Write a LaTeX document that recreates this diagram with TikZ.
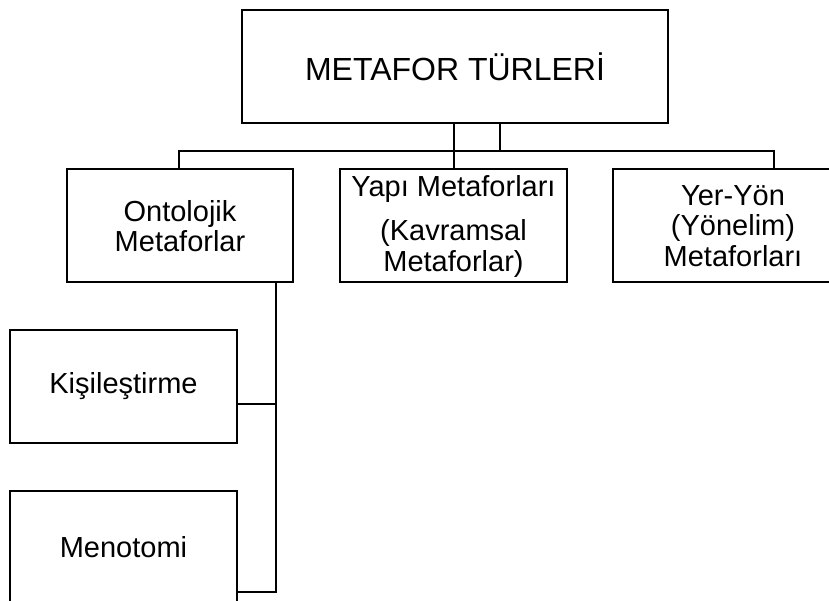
\documentclass[tikz,border=0pt]{standalone}
\usepackage{fontspec}
\setmainfont{Liberation Sans}
\tikzset{
  box/.style={draw=black, line width=2pt, rectangle, inner sep=0pt, outer sep=0pt,
    align=center, font=\fontsize{29}{30.5}\selectfont},
  conn/.style={draw=black, line width=2pt}
}
\begin{document}
\begin{tikzpicture}[x=1pt,y=-1pt]
\useasboundingbox (0,0) rectangle (829,601);
\clip (0,0) rectangle (829,601);
\fill[white] (0,0) rectangle (829,601);

\node[box, minimum width=426pt, minimum height=113pt, font=\fontsize{32}{36}\selectfont] (top) at (455,66.5) {METAFOR TÜRLERİ};
\node[box, minimum width=226pt, minimum height=113pt] (onto) at (180,226) {Ontolojik\\Metaforlar};
\node[box, minimum width=227pt, minimum height=113pt] (yapi) at (453.5,226) {Yapı Metaforları\\[14pt](Kavramsal\\Metaforlar)};
\node[box, minimum width=240pt, minimum height=113pt] (yer) at (733,226) {Yer-Yön\\(Yönelim)\\Metaforları};
\node[box, minimum width=227pt, minimum height=113pt] (kis) at (123.5,386.5) {Kişileştirme};
\node[box, minimum width=227pt, minimum height=113pt] (men) at (123.5,547.5) {Menotomi};

\coordinate (j) at (500,151);
\coordinate (busL) at (179,151);
\coordinate (busR) at (774,151);
\coordinate (kj) at (276,404);
\coordinate (vb) at (276,592);

\draw[conn] (top.south -| yapi.north) -- (yapi.north);
\draw[conn] (top.south -| j) -- (j);
\draw[conn] (onto.north -| busL) -- (busL) -- (busR) -- (busR |- yer.north);
\draw[conn] (vb |- onto.south) -- (vb) -- (vb -| men.east);
\draw[conn] (kis.east |- kj) -- (kj);
\end{tikzpicture}
\end{document}
